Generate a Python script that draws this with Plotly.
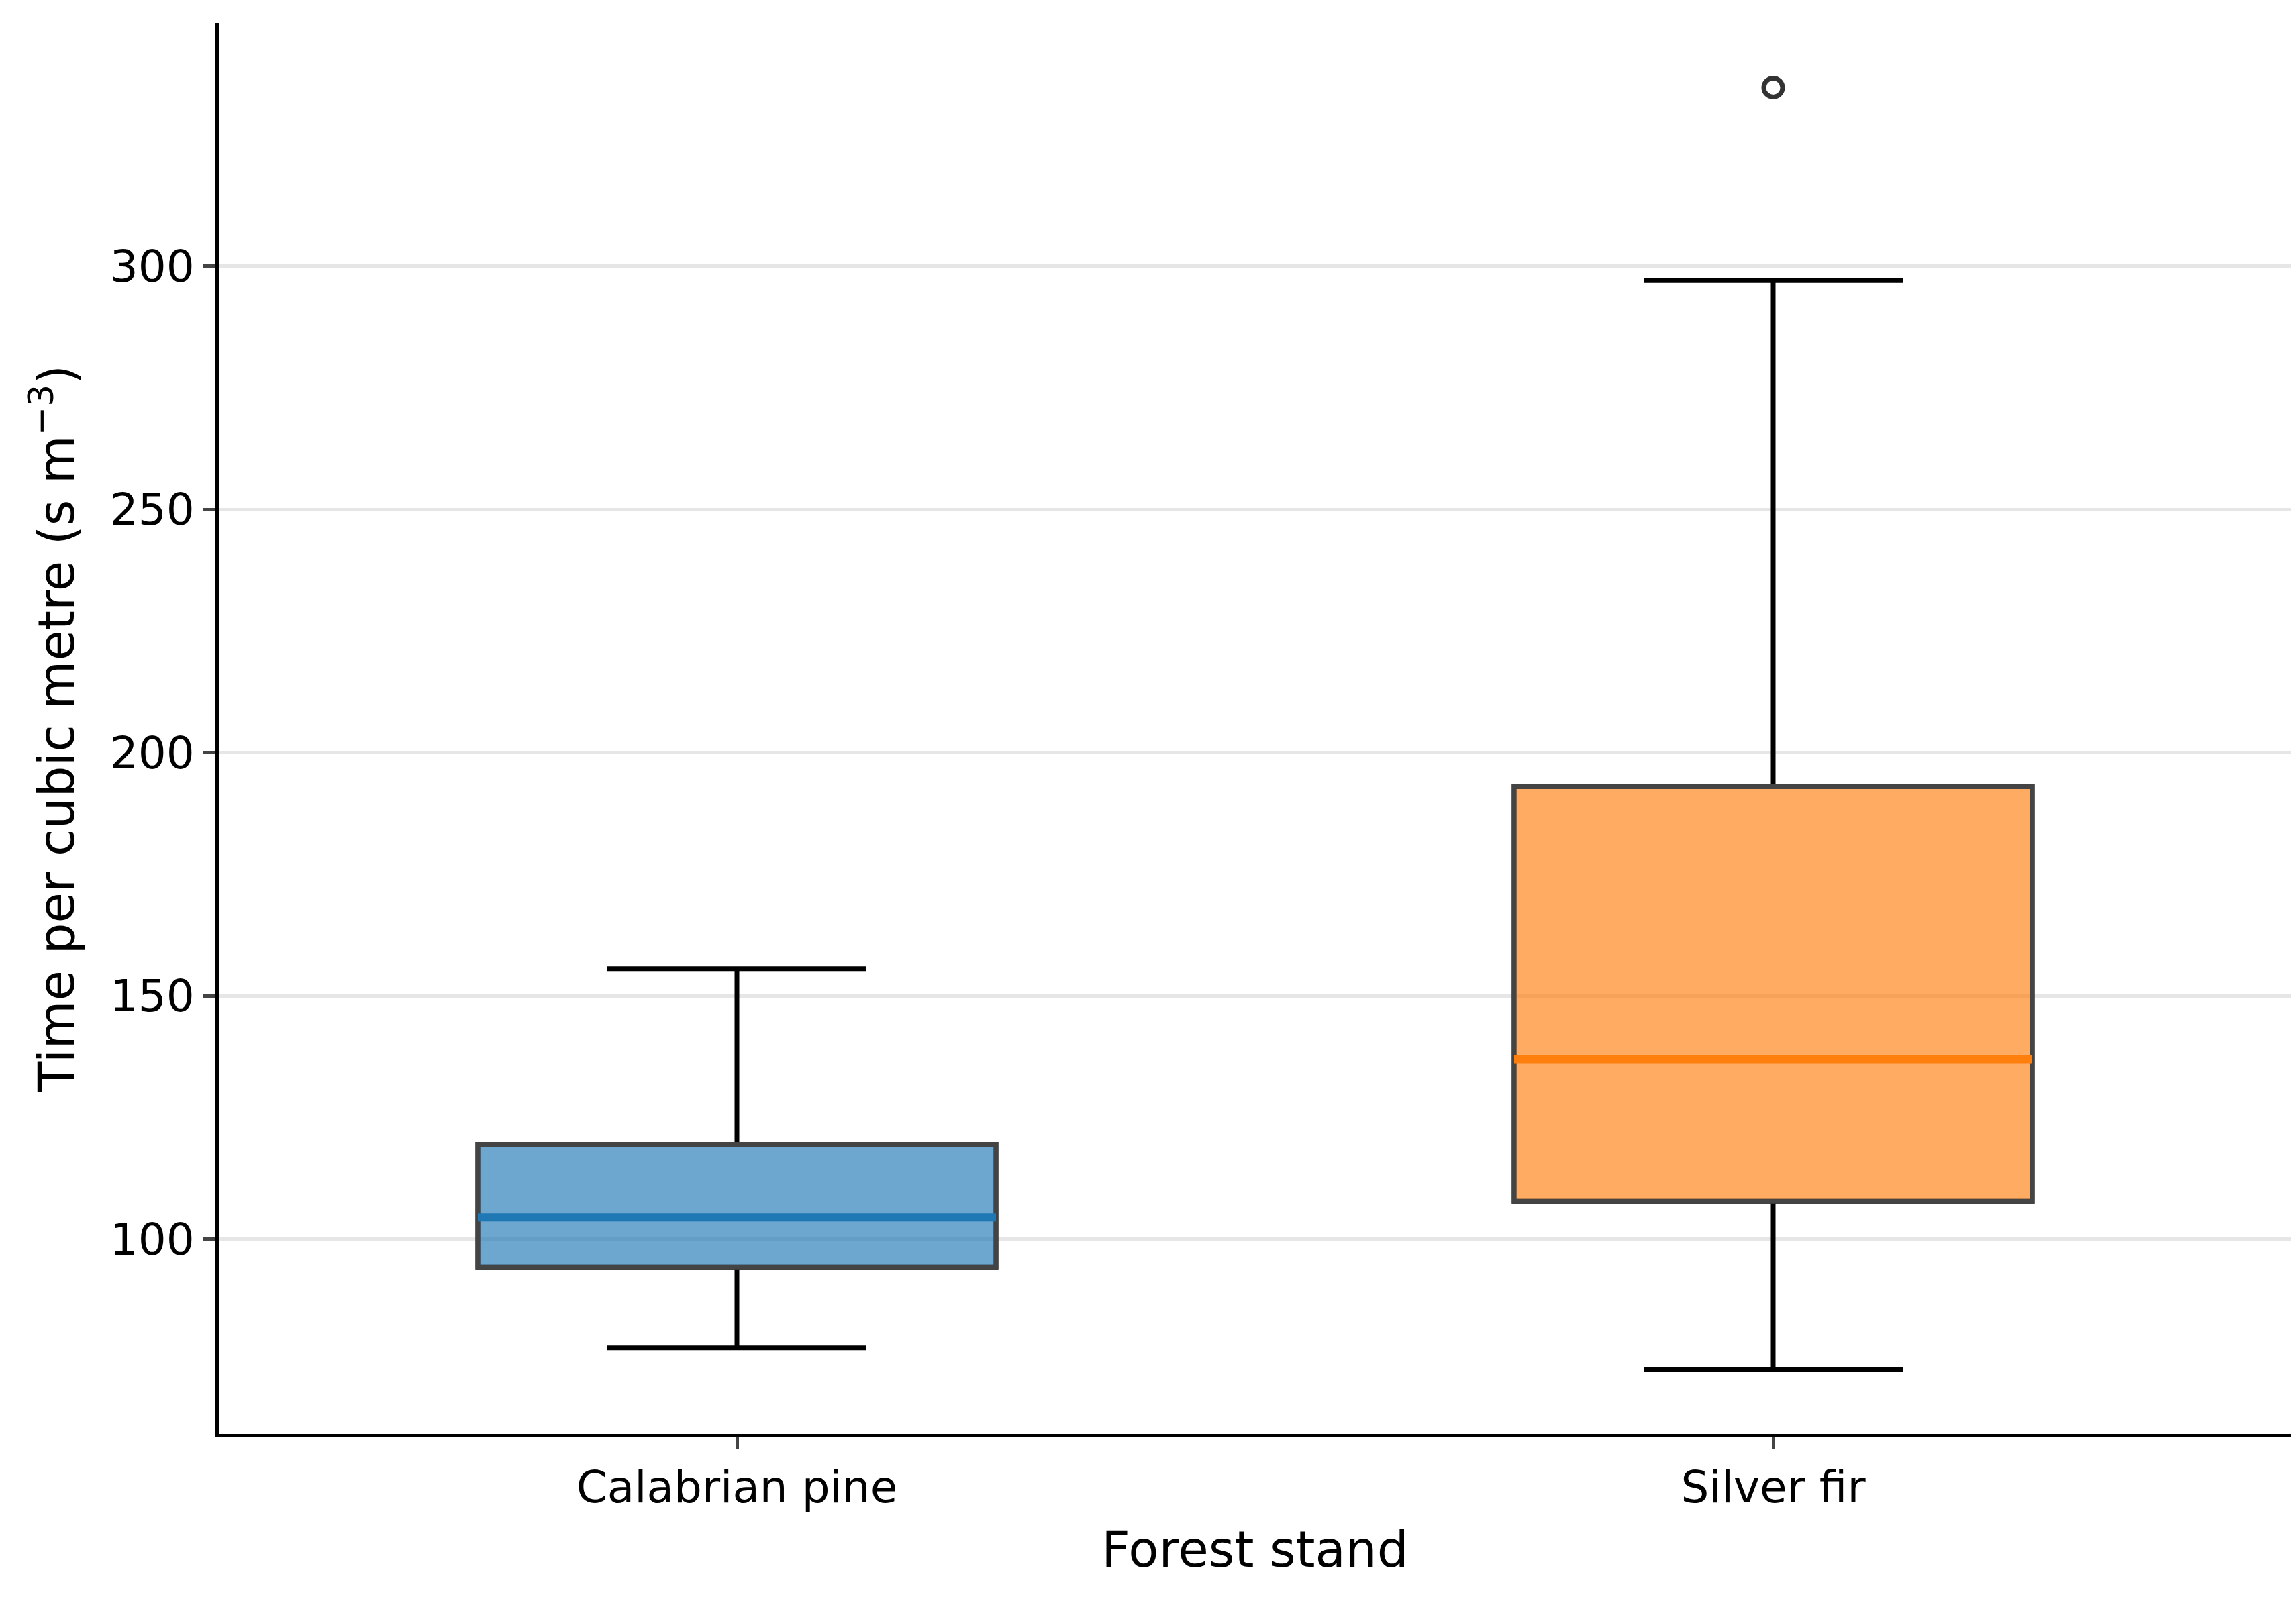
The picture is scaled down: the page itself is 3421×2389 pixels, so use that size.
import plotly.graph_objects as go

stands = ["Calabrian pine", "Silver fir"]
q1 = [94.3, 107.8]
medians = [104.5, 137.0]
q3 = [119.5, 193.0]
lower_whisker = [77.7, 73.2]
upper_whisker = [155.6, 297.0]
outlier_x = ["Silver fir"]
outlier_y = [336.7]

fills = ["rgba(31,119,180,0.65)", "rgba(255,127,14,0.65)"]
median_colors = ["#1f77b4", "#ff7f0e"]

fig = go.Figure()
for i, s in enumerate(stands):
    # whiskers in black
    fig.add_trace(go.Box(
        x=[s], q1=[q1[i]], median=[medians[i]], q3=[q3[i]],
        lowerfence=[lower_whisker[i]], upperfence=[upper_whisker[i]],
        width=0.5, whiskerwidth=0.5, fillcolor="rgba(0,0,0,0)",
        line=dict(color="black", width=7), boxpoints=False,
        showlegend=False, hoverinfo="skip"))
    # box body in gray outline
    fig.add_trace(go.Box(
        x=[s], q1=[q1[i]], median=[medians[i]], q3=[q3[i]],
        lowerfence=[q1[i]], upperfence=[q3[i]],
        width=0.5, whiskerwidth=0, fillcolor=fills[i],
        line=dict(color="#444444", width=7), boxpoints=False,
        showlegend=False))
    fig.add_shape(type="line", xref="x", yref="y",
                  x0=i - 0.25, x1=i + 0.25, y0=medians[i], y1=medians[i],
                  line=dict(color=median_colors[i], width=12))

fig.add_trace(go.Scatter(
    x=outlier_x, y=outlier_y, mode="markers",
    marker=dict(symbol="circle-open", size=28, color="#333333",
                line=dict(width=7)),
    showlegend=False))

axis_font = dict(family="DejaVu Sans", size=66, color="black")
fig.update_layout(
    width=3421, height=2389,
    boxmode="overlay",
    plot_bgcolor="white", paper_bgcolor="white",
    margin=dict(l=318, r=15, t=26, b=260),
    font=dict(family="DejaVu Sans", color="black"),
    xaxis=dict(
        title=dict(text="Forest stand", font=dict(family="DejaVu Sans", size=74),
                   standoff=30),
        type="category", range=[-0.5, 1.5],
        tickfont=axis_font, ticks="outside", ticklen=18, tickwidth=5,
        showline=True, linecolor="black", linewidth=5, showgrid=False),
    yaxis=dict(
        title=dict(text="Time per cubic metre (s m<sup>−3</sup>)",
                   font=dict(family="DejaVu Sans", size=74), standoff=30),
        range=[60, 350], tickvals=[100, 150, 200, 250, 300],
        tickfont=axis_font, ticks="outside", ticklen=18, tickwidth=5,
        showline=True, linecolor="black", linewidth=5,
        showgrid=True, gridcolor="#e6e6e6", gridwidth=5, zeroline=False),
)

fig.write_html("out.html")
